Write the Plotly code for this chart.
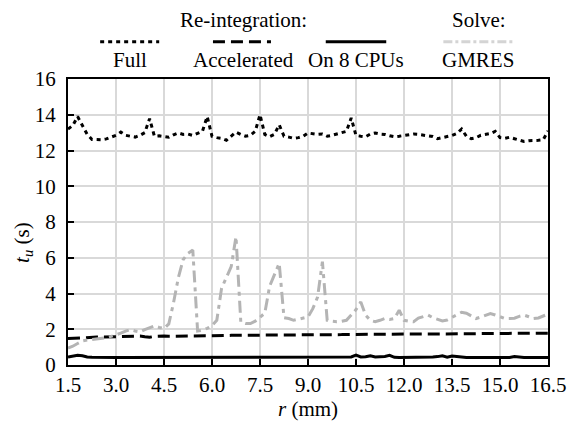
import numpy as np
import plotly.graph_objects as go

# Radial position (mm), sampled every 0.15 mm
r_mm = np.round(np.linspace(1.5, 16.5, 101), 2)

# Re-integration time, full
t_full = [
    13.2, 13.4, 13.9, 13.4, 12.9, 12.62, 12.6, 12.6, 12.65, 12.75,
    12.85, 13.03, 12.85, 12.8, 12.75, 12.85, 13.0, 13.78, 12.8, 12.82,
    12.8, 12.74, 12.88, 12.98, 12.9, 12.92, 12.84, 12.95, 13.07, 13.9,
    12.79, 12.72, 12.68, 12.57, 12.8, 13.03, 12.9, 12.8, 12.85, 13.07,
    14.0, 12.9, 12.77, 12.9, 13.44, 12.8, 12.75, 12.68, 12.72, 12.8,
    12.98, 12.92, 12.9, 12.92, 12.8, 12.85, 12.92, 12.98, 13.07, 13.82,
    12.84, 12.8, 12.77, 12.92, 12.98, 12.92, 12.9, 12.82, 12.77, 12.8,
    12.84, 12.88, 12.92, 12.9, 12.86, 12.84, 12.78, 12.66, 12.7, 12.78,
    12.84, 12.95, 13.2, 12.8, 12.66, 12.72, 12.85, 12.88, 12.95, 13.07,
    12.72, 12.68, 12.74, 12.66, 12.58, 12.51, 12.55, 12.55, 12.57, 12.6,
    13.1,
]

# Re-integration time, accelerated
t_accel = [
    1.48, 1.5, 1.52, 1.53, 1.54, 1.55, 1.56, 1.56, 1.57, 1.58,
    1.6, 1.6, 1.6, 1.62, 1.63, 1.62, 1.58, 1.55, 1.6, 1.62,
    1.62, 1.61, 1.61, 1.62, 1.62, 1.62, 1.63, 1.63, 1.63, 1.64,
    1.65, 1.65, 1.65, 1.65, 1.66, 1.66, 1.66, 1.66, 1.67, 1.67,
    1.67, 1.67, 1.68, 1.68, 1.68, 1.68, 1.69, 1.69, 1.69, 1.69,
    1.69, 1.7, 1.7, 1.7, 1.7, 1.7, 1.7, 1.7, 1.71, 1.71,
    1.71, 1.71, 1.71, 1.71, 1.72, 1.72, 1.72, 1.72, 1.72, 1.72,
    1.72, 1.73, 1.73, 1.73, 1.73, 1.73, 1.74, 1.74, 1.74, 1.74,
    1.74, 1.75, 1.75, 1.75, 1.75, 1.75, 1.76, 1.76, 1.76, 1.76,
    1.76, 1.77, 1.77, 1.77, 1.77, 1.77, 1.78, 1.78, 1.78, 1.78,
    1.78,
]

# Re-integration time, on 8 CPUs
t_cpu8 = [
    0.44, 0.5, 0.55, 0.52, 0.45, 0.43, 0.42, 0.42, 0.42, 0.42,
    0.42, 0.42, 0.42, 0.42, 0.42, 0.42, 0.42, 0.42, 0.42, 0.42,
    0.42, 0.42, 0.42, 0.42, 0.42, 0.42, 0.42, 0.42, 0.42, 0.42,
    0.42, 0.42, 0.42, 0.42, 0.42, 0.42, 0.42, 0.42, 0.46, 0.43,
    0.46, 0.43, 0.42, 0.42, 0.42, 0.42, 0.42, 0.42, 0.42, 0.42,
    0.42, 0.42, 0.42, 0.42, 0.42, 0.42, 0.42, 0.42, 0.42, 0.45,
    0.55, 0.45, 0.46, 0.52, 0.45, 0.45, 0.48, 0.54, 0.43, 0.42,
    0.42, 0.42, 0.42, 0.42, 0.42, 0.43, 0.45, 0.47, 0.52, 0.44,
    0.5, 0.47, 0.43, 0.42, 0.42, 0.42, 0.42, 0.42, 0.42, 0.42,
    0.42, 0.42, 0.42, 0.47, 0.43, 0.42, 0.42, 0.42, 0.42, 0.42,
    0.42,
]

# Solve time, GMRES
t_gmres = [
    0.95, 1.05, 1.2, 1.35, 1.4, 1.42, 1.45, 1.48, 1.52, 1.6,
    1.67, 1.78, 1.9, 1.98, 1.9, 1.85, 1.98, 2.1, 2.19, 2.1,
    2.04, 2.3, 3.5, 4.9, 5.9, 6.25, 6.43, 1.9, 1.95, 2.05,
    2.2, 2.5, 4.3, 4.9, 5.5, 7.18, 2.4, 2.32, 2.32, 2.45,
    2.7, 2.9, 4.4, 5.1, 5.69, 2.65, 2.6, 2.5, 2.55, 2.62,
    2.69, 3.15, 3.8, 5.78, 2.5, 2.45, 2.42, 2.45, 2.5, 2.8,
    3.1, 3.53, 2.79, 2.5, 2.42, 2.5, 2.6, 2.55, 2.6, 3.07,
    2.5, 2.45, 2.42, 2.62, 2.7, 2.79, 2.65, 2.55, 2.47, 2.52,
    2.65, 2.79, 2.95, 2.9, 2.75, 2.6, 2.68, 2.78, 2.88, 2.8,
    2.7, 2.6, 2.6, 2.62, 2.72, 2.79, 2.7, 2.6, 2.63, 2.75,
    2.85,
]

x_ticks = [1.5, 3.0, 4.5, 6.0, 7.5, 9.0, 10.5, 12.0, 13.5, 15.0, 16.5]
y_ticks = list(range(0, 17, 2))

FONT = "Liberation Serif"
FS = 21
GRAY = "#b4b4b4"

series = [
    ("Full", t_full, "black", "4px,4px"),
    ("Accelerated", t_accel, "black", "12px,6px"),
    ("On 8 CPUs", t_cpu8, "black", "solid"),
    ("GMRES", t_gmres, GRAY, "12px,5px,4px,5px"),
]

fig = go.Figure()
for name, vals, color, dash in series:
    fig.add_trace(go.Scatter(
        x=r_mm, y=vals, mode="lines", name=name,
        line=dict(color=color, width=3, dash=dash),
        showlegend=False,
    ))

# Hand-built legend: group headings, line samples, and labels underneath
legend_items = [
    # label, sample x-range (paper), color, dash
    ("Full", 0.067, 0.190, "black", "4px,4px"),
    ("Accelerated", 0.302, 0.428, "black", "12px,6px,12px,6px,12px,6px,4px,40px"),
    ("On 8 CPUs", 0.537, 0.663, "black", "solid"),
    ("GMRES", 0.782, 0.927, "#d4d4d4", "dashdot"),
]
shapes = []
annotations = []
for label, x0, x1, color, dash in legend_items:
    shapes.append(dict(
        type="line", xref="paper", yref="paper", x0=x0, x1=x1,
        y0=1.13, y1=1.13, line=dict(color=color, width=3, dash=dash),
    ))
    annotations.append(dict(
        text=label, xref="paper", yref="paper", x=(x0 + x1) / 2, y=1.065,
        showarrow=False, font=dict(family=FONT, size=FS, color="black"),
        xanchor="center", yanchor="middle",
    ))
annotations.append(dict(
    text="Re-integration:", xref="paper", yref="paper", x=0.365, y=1.205,
    showarrow=False, font=dict(family=FONT, size=FS, color="black"),
    xanchor="center", yanchor="middle",
))
annotations.append(dict(
    text="Solve:", xref="paper", yref="paper", x=0.857, y=1.205,
    showarrow=False, font=dict(family=FONT, size=FS, color="black"),
    xanchor="center", yanchor="middle",
))
# Y-axis title, set slightly below the vertical centre of the plot
annotations.append(dict(
    text="<i>t</i><sub><i>u</i></sub> (s)", xref="paper", yref="paper",
    x=-0.094, y=0.43, textangle=-90, showarrow=False,
    font=dict(family=FONT, size=FS, color="black"),
    xanchor="center", yanchor="middle",
))

fig.update_layout(
    width=578, height=428,
    margin=dict(l=68, r=20, t=79, b=63),
    paper_bgcolor="white", plot_bgcolor="white",
    font=dict(family=FONT, size=FS, color="black"),
    shapes=shapes, annotations=annotations,
    showlegend=False,
)
fig.update_xaxes(
    range=[1.5, 16.5], tickvals=x_ticks,
    ticktext=[f"{v:.1f}" for v in x_ticks],
    ticks="inside", ticklen=6, tickwidth=2, tickcolor="black",
    showline=True, linecolor="black", linewidth=2, mirror=True,
    showgrid=True, gridcolor="#d9d9d9", gridwidth=2,
    zeroline=False,
    tickfont=dict(family=FONT, size=FS),
    title=dict(text="<i>r</i> (mm)", standoff=2, font=dict(family=FONT, size=FS)),
)
fig.update_yaxes(
    range=[0, 16], tickvals=y_ticks,
    ticks="inside", ticklen=6, tickwidth=2, tickcolor="black",
    showline=True, linecolor="black", linewidth=2, mirror=True,
    showgrid=True, gridcolor="#d9d9d9", gridwidth=2,
    zeroline=False,
    ticklabelstandoff=6,
    tickfont=dict(family=FONT, size=FS),
)

fig.write_html("out.html")
